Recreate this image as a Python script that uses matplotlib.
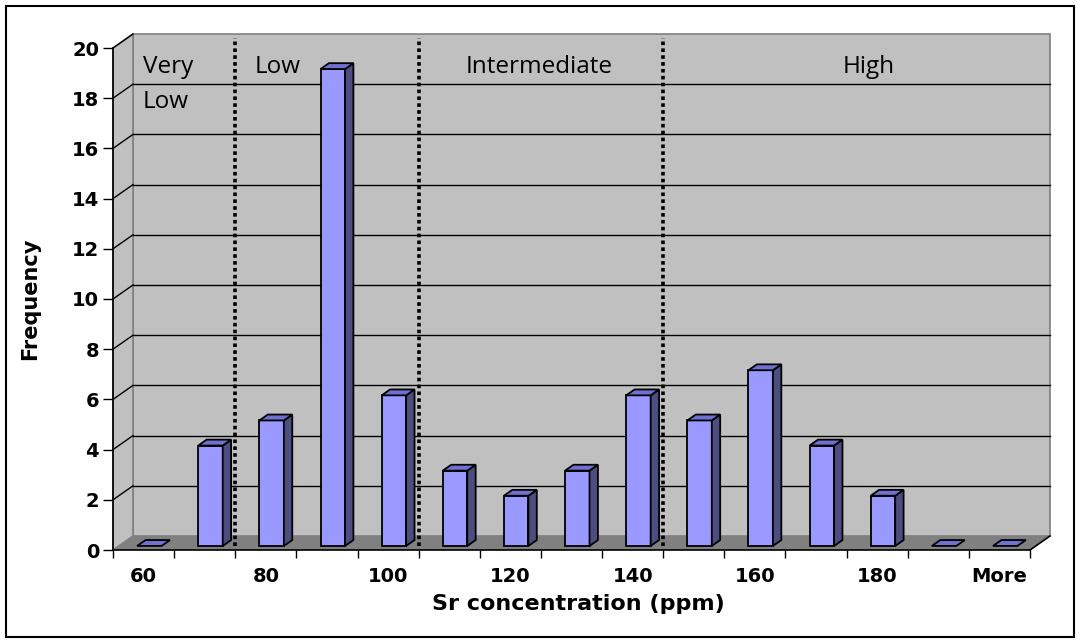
import matplotlib
matplotlib.use("Agg")
import matplotlib.pyplot as plt
from matplotlib.patches import Polygon, Rectangle

# histogram bins and counts
bins = ["60", "70", "80", "90", "100", "110", "120", "130", "140",
        "150", "160", "170", "180", "190", "More"]
freq = [0, 4, 5, 19, 6, 3, 2, 3, 6, 5, 7, 4, 2, 0, 0]
shown_labels = ["60", "80", "100", "120", "140", "160", "180", "More"]

# class boundaries (bin index where the dotted separators sit) and class names
splits = [2, 5, 9]
classes = ["Very\nLow", "Low", "Intermediate", "High"]
class_x = [0.49, 2.31, 5.77, 11.94]

# fake 3d depth (in data units)
DX = 0.327
DY = 0.558
wall_col = "#c0c0c0"
floor_col = "#808080"
front_col = "#9999ff"
side_col = "#4d4d80"
top_col = "#7070d0"

fig = plt.figure(figsize=(10.8, 6.43), dpi=100)
ax = fig.add_axes([113/1080, 1-550/643, 917/1080, 502/643])
n = len(bins)
ax.set_xlim(0, n)
ax.set_ylim(0, 20)
ax.set_facecolor("none")

# back wall, side wall, floor
ax.add_patch(Polygon([(DX, DY), (n+DX, DY), (n+DX, 20+DY), (DX, 20+DY)],
                     closed=True, fc=wall_col, ec="#808080", lw=1.2, zorder=1, clip_on=False))
ax.add_patch(Polygon([(0, 0), (DX, DY), (DX, 20+DY), (0, 20)],
                     closed=True, fc=wall_col, ec="#808080", lw=1.2, zorder=1, clip_on=False))
ax.add_patch(Polygon([(0, 0), (n, 0), (n+DX, DY), (DX, DY)],
                     closed=True, fc=floor_col, ec="none", zorder=1, clip_on=False))
ax.plot([n, n+DX], [0, DY], color="black", lw=1.2, zorder=2, clip_on=False)

# gridlines
for v in range(2, 20, 2):
    ax.plot([DX, n+DX], [v+DY, v+DY], color="black", lw=1.0, zorder=2, clip_on=False)
for v in range(2, 21, 2):
    ax.plot([0, DX], [v, v+DY], color="black", lw=1.0, zorder=2, clip_on=False)

# bars
z0, z1 = 0.29, 0.71
for i, f in enumerate(freq):
    x0 = i + 0.3
    x1 = i + 0.7
    ax0, ay0 = z0*DX, z0*DY
    ax1, ay1 = z1*DX, z1*DY
    if f > 0:
        ax.add_patch(Polygon([(x0+ax0, ay0), (x1+ax0, ay0), (x1+ax0, f+ay0), (x0+ax0, f+ay0)],
                             closed=True, fc=front_col, ec="black", lw=1.3, zorder=3, clip_on=False))
        ax.add_patch(Polygon([(x1+ax0, ay0), (x1+ax1, ay1), (x1+ax1, f+ay1), (x1+ax0, f+ay0)],
                             closed=True, fc=side_col, ec="black", lw=1.3, zorder=3, clip_on=False))
    ax.add_patch(Polygon([(x0+ax0, f+ay0), (x1+ax0, f+ay0), (x1+ax1, f+ay1), (x0+ax1, f+ay1)],
                         closed=True, fc=top_col, ec="black", lw=1.3, zorder=3, clip_on=False))

# dotted separators
for s in splits:
    ax.plot([s, s], [0.16, 20.4], color="black", lw=2.6, linestyle=(0, (1, 0.9)),
            zorder=4, clip_on=False)

# class names (one text per line, second line 35 px lower)
for name, x in zip(classes, class_x):
    for k, line in enumerate(name.split("\n")):
        ax.text(x, 19.0 - k*1.39, line, fontsize=17.5, family="Open Sans",
                va="baseline", zorder=5)

# axes
for sp in ["top", "right"]:
    ax.spines[sp].set_visible(False)
ax.spines["left"].set_linewidth(1.2)
ax.spines["bottom"].set_linewidth(1.2)
ax.set_yticks(range(0, 21, 2))
ax.tick_params(axis="y", length=7, width=1.0, pad=3, labelsize=14)
for t in ax.get_yticklabels():
    t.set_fontweight("bold")
ax.set_xticks(range(0, n+1))
ax.set_xticklabels([])
ax.tick_params(axis="x", which="major", length=6, width=1.0)
ax.set_xticks([i + 0.5 for i in range(0, n, 2)], minor=True)
ax.set_xticklabels(shown_labels, minor=True, fontsize=14, fontweight="bold")
ax.tick_params(axis="x", which="minor", length=0, pad=12)

ax.set_ylabel("Frequency", fontsize=15, fontweight="bold")
ax.yaxis.set_label_coords(-0.0796, 0.5)
ax.set_xlabel("Sr concentration (ppm)", fontsize=16, fontweight="bold")
ax.xaxis.set_label_coords(0.508, -0.107)
ax.xaxis.label.set_va("center")

# outer frame
fig.add_artist(Rectangle((6/1080, 6/643), 1068/1080, 631/643, transform=fig.transFigure,
                         fill=False, ec="black", lw=1.5))

fig.savefig("out.png", dpi=100)
